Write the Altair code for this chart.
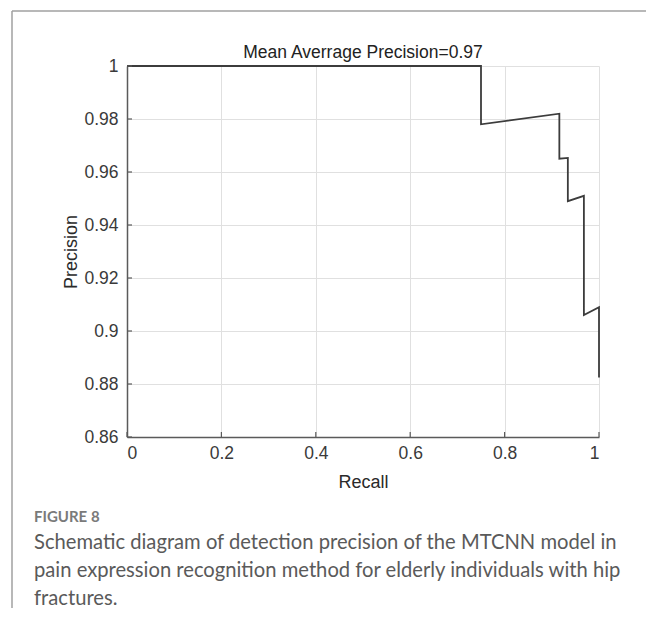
import altair as alt
import pandas as pd

# ---- data ----
recall = [0.0, 0.75, 0.75, 0.916, 0.916, 0.934, 0.934, 0.968, 0.968, 1.0, 1.0]
precision = [1.0, 1.0, 0.978, 0.982, 0.965, 0.9653, 0.949, 0.951, 0.906, 0.909, 0.8825]
x_ticks = [0, 0.2, 0.4, 0.6, 0.8, 1]
y_ticks = [0.86, 0.88, 0.9, 0.92, 0.94, 0.96, 0.98, 1]
title_text = "Mean Averrage Precision=0.97"
x_title = "Recall"
y_title = "Precision"
figure_label = "FIGURE 8"
caption_lines = [
    "Schematic diagram of detection precision of the MTCNN model in",
    "pain expression recognition method for elderly individuals with hip",
    "fractures.",
]

W, H = 472, 371
FONT = "Liberation Sans"
CAP_FONT = "Lato"

curve = pd.DataFrame({"recall": recall, "precision": precision,
                      "order": list(range(len(recall)))})
xs = alt.Scale(domain=[0, 1], nice=False, zero=False)
ys = alt.Scale(domain=[0.86, 1], nice=False, zero=False)

common_axis = dict(
    domainColor="#5a5a5a", domainWidth=1.5, gridColor="#e0e0e0", gridWidth=1,
    ticks=False, labelFont=FONT, labelFontSize=17.5, labelColor="#3a3a3a",
    titleFont=FONT, titleFontSize=18, titleFontWeight="normal",
    titleColor="#2a2a2a", titleBaseline="middle",
)
x_axis = alt.Axis(values=x_ticks, format="~g", title=x_title, grid=True,
                  labelPadding=7, titleX=W / 2, titleY=45, **common_axis)
y_axis = alt.Axis(values=y_ticks, format="~g", title=y_title, grid=True,
                  labelPadding=9, titleX=-56, titleY=H / 2, titleAngle=270,
                  **common_axis)

line = alt.Chart(curve).mark_line(color="#3c3c3c", strokeWidth=1.8, clip=False).encode(
    x=alt.X("recall:Q", scale=xs, axis=x_axis),
    y=alt.Y("precision:Q", scale=ys, axis=y_axis),
    order="order:O",
)

xt = pd.DataFrame({"v": x_ticks})
yt = pd.DataFrame({"v": y_ticks})
x_tick_marks = alt.Chart(xt).mark_rule(color="#5a5a5a", strokeWidth=1.2).encode(
    x=alt.X("v:Q", scale=xs, axis=x_axis), y=alt.value(H), y2=alt.value(H - 5))
y_tick_marks = alt.Chart(yt).mark_rule(color="#5a5a5a", strokeWidth=1.2).encode(
    y=alt.Y("v:Q", scale=ys, axis=y_axis), x=alt.value(0), x2=alt.value(5))

one = pd.DataFrame({"t": [title_text]})
title = alt.Chart(one).mark_text(font=FONT, fontSize=17.5, color="#222222",
                                 baseline="middle", align="center").encode(
    text="t:N", x=alt.value(W / 2), y=alt.value(-13))

frame_top = alt.Chart(one).mark_rule(color="#a0a0a0", strokeWidth=1.5).encode(
    x=alt.value(-115), x2=alt.value(540), y=alt.value(-55))
frame_left = alt.Chart(one).mark_rule(color="#a0a0a0", strokeWidth=1.5).encode(
    x=alt.value(-115), y=alt.value(-55), y2=alt.value(560))

fig = alt.Chart(pd.DataFrame({"t": [figure_label]})).mark_text(
    font=CAP_FONT, fontSize=15, fontWeight="bold", color="#7a7a7a",
    align="left", baseline="alphabetic").encode(
    text="t:N", x=alt.value(-93), y=alt.value(456))

cap = alt.Chart(one).mark_text(
    font=CAP_FONT, fontSize=20.2, color="#5a5a5a", lineHeight=28,
    align="left", baseline="alphabetic").encode(
    text=alt.value(caption_lines), x=alt.value(-93), y=alt.value(483))

chart = alt.layer(frame_top, frame_left, line, x_tick_marks, y_tick_marks,
                  title, fig, cap).properties(
    width=W, height=H,
    autosize=alt.AutoSizeParams(type="none"),
    padding={"left": 119, "top": 58, "right": 47, "bottom": 171},
    background="white",
).configure_view(strokeWidth=0)

chart.save("out.html", embed_options={"renderer": "svg", "actions": False})
